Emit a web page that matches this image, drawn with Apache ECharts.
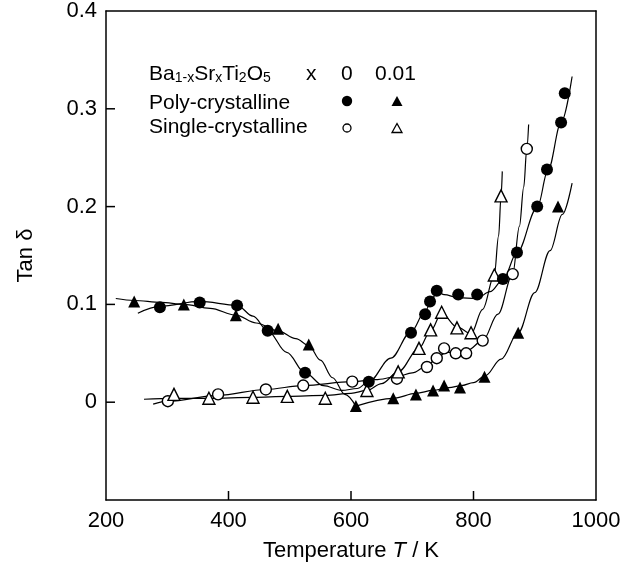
<!DOCTYPE html>
<html>
<head>
<meta charset="utf-8">
<script src="https://cdn.jsdelivr.net/npm/echarts@6/dist/echarts.min.js"></script>
<style>
  html, body { margin: 0; padding: 0; background: #fff; }
  #chart { width: 632px; height: 572px; }
</style>
</head>
<body>
<div id="chart"></div>
<script>
// measured points [T (K), tan delta]
const polyX0 = [[288,0.097],[353,0.102],[414,0.099],[464,0.073],[525,0.030],[629,0.021],[698,0.071],[721,0.090],[729,0.103],[740,0.114],[775,0.110],[806,0.110],[848,0.126],[871,0.153],[904,0.200],[920,0.238],[943,0.286],[949,0.316]];
const polyX001 = [[246,0.103],[327,0.100],[412,0.089],[481,0.075],[531,0.059],[608,-0.004],[669,0.004],[706,0.008],[734,0.012],[752,0.017],[778,0.015],[818,0.026],[873,0.071],[938,0.200]];
const singleX0 = [[301,0.001],[383,0.008],[461,0.013],[522,0.017],[602,0.021],[675,0.024],[724,0.036],[740,0.045],[752,0.055],[771,0.050],[788,0.050],[815,0.063],[864,0.131],[887,0.259]];
const singleX001 = [[311,0.008],[368,0.004],[440,0.005],[496,0.006],[558,0.004],[626,0.012],[677,0.031],[711,0.055],[730,0.074],[748,0.092],[773,0.076],[796,0.071],[834,0.130],[845,0.211]];

// guide curves drawn through the data
const polyX0Fit = [[252,0.091],[288,0.098],[353,0.103],[414,0.099],[440,0.088],[464,0.073],[495,0.051],[525,0.030],[555,0.017],[585,0.012],[610,0.014],[629,0.021],[665,0.045],[698,0.072],[722,0.094],[733,0.107],[742,0.113],[752,0.110],[775,0.107],[805,0.106],[827,0.113],[848,0.125],[871,0.153],[904,0.199],[922,0.238],[943,0.286],[961,0.333]];
const polyX001FitLow = [[216,0.106],[246,0.104],[290,0.102],[327,0.100],[370,0.096],[412,0.089],[445,0.081],[481,0.073],[510,0.065],[531,0.058],[550,0.043],[570,0.025],[590,0.008],[608,-0.004]];
const polyX001FitHigh = [[608,-0.004],[669,0.004],[706,0.009],[734,0.012],[760,0.015],[780,0.017],[800,0.020],[819,0.027],[845,0.044],[873,0.071],[900,0.112],[925,0.155],[945,0.192],[961,0.224]];
const singleX0Fit = [[277,-0.002],[301,0.001],[383,0.007],[461,0.013],[522,0.017],[602,0.021],[640,0.023],[675,0.026],[700,0.030],[724,0.037],[740,0.045],[755,0.051],[772,0.051],[790,0.053],[815,0.063],[840,0.090],[864,0.131],[875,0.180],[882,0.220],[887,0.259],[890,0.284]];
const singleX001Fit = [[262,0.003],[311,0.004],[368,0.004],[440,0.005],[496,0.006],[558,0.007],[600,0.009],[626,0.012],[650,0.019],[677,0.031],[711,0.055],[730,0.073],[748,0.091],[773,0.077],[796,0.070],[815,0.095],[834,0.130],[841,0.170],[845,0.211],[847,0.236]];

const xTicks = [200, 400, 600, 800, 1000];
const yTicks = [-0.1, 0, 0.1, 0.2, 0.3, 0.4];
// inward tick marks shown on the frame
const xTickMarks = [400, 600, 800];
const yTickMarks = [0, 0.1, 0.2, 0.3];

const FONT = "'Liberation Sans', Arial, sans-serif";
const chart = echarts.init(document.getElementById('chart'));

const xMin = xTicks[0], xMax = xTicks[xTicks.length - 1];
const yMin = yTicks[0], yMax = yTicks[yTicks.length - 1];

function fitLine(data) {
  return {
    type: 'line', data: data, smooth: 0.35, smoothMonotone: 'x',
    showSymbol: false, silent: true, z: 2,
    lineStyle: { color: '#000', width: 1.2 }
  };
}

function marks(data, symbol, filled, size) {
  return {
    type: 'scatter', data: data, symbol: symbol, symbolSize: size, z: 5,
    itemStyle: filled
      ? { color: '#000', opacity: 1 }
      : { color: '#fff', borderColor: '#000', borderWidth: 1.4, opacity: 1 }
  };
}

// short inward ticks, placed on the frame through the axes' scales
function tickMarks(data, size, offset) {
  return {
    type: 'scatter', data: data, symbol: 'rect', symbolSize: size, symbolOffset: offset,
    clip: false, silent: true, z: 6,
    itemStyle: { color: '#000', opacity: 1 }
  };
}

const sub = { fontSize: 14, lineHeight: 14, verticalAlign: 'bottom', fontFamily: FONT, fill: '#000' };
const norm = { fontSize: 21, lineHeight: 22, fontFamily: FONT, fill: '#000' };

function legendText(x, y, txt, rich) {
  return { type: 'text', left: x, top: y, z: 10,
    style: { text: txt, fill: '#000', font: '21px ' + FONT, rich: rich } };
}

function tri(cx, cy, w, h, filled) {
  return { type: 'polygon', z: 10,
    shape: { points: [[cx, cy - h / 2], [cx + w / 2, cy + h / 2], [cx - w / 2, cy + h / 2]] },
    style: filled ? { fill: '#000' } : { fill: '#fff', stroke: '#000', lineWidth: 1.3 } };
}

function frameAxis(pos, min, max) {
  // plain line for the top / right edge of the box
  return {
    type: 'value', position: pos, min: min, max: max,
    axisLine: { show: true, onZero: false, lineStyle: { color: '#000', width: 1.5 } },
    axisTick: { show: false }, axisLabel: { show: false }, splitLine: { show: false }
  };
}

const option = {
  animation: false,
  backgroundColor: '#fff',
  grid: { left: 106, right: 36, top: 11, bottom: 72 },
  xAxis: [{
    type: 'value', position: 'bottom', min: xMin, max: xMax, interval: 200,
    name: '{n|Temperature }{i|T}{n| / K}', nameLocation: 'middle', nameGap: 40,
    nameTextStyle: { rich: { n: { fontSize: 22, fontFamily: FONT, color: '#000' }, i: { fontSize: 22, fontFamily: FONT, fontStyle: 'italic', color: '#000' } } },
    axisLine: { show: true, onZero: false, lineStyle: { color: '#000', width: 1.5 } },
    axisTick: { show: false },
    axisLabel: { fontSize: 22, fontFamily: FONT, color: '#000', margin: 10, formatter: function (v) { return String(v); } },
    splitLine: { show: false }
  }, frameAxis('top', xMin, xMax)],
  yAxis: [{
    type: 'value', position: 'left', min: yMin, max: yMax, interval: 0.1,
    name: 'Tan δ', nameLocation: 'middle', nameGap: 69,
    nameTextStyle: { fontSize: 22, fontFamily: FONT, color: '#000' },
    axisLine: { show: true, onZero: false, lineStyle: { color: '#000', width: 1.5 } },
    axisTick: { show: false },
    axisLabel: {
      fontSize: 22, fontFamily: FONT, color: '#000', margin: 9,
      formatter: function (v) {
        const r = Math.round(v * 10) / 10;
        if (r < 0) return '';
        return r === 0 ? '0' : r.toFixed(1);
      }
    },
    splitLine: { show: false }
  }, frameAxis('right', yMin, yMax)],
  series: [
    fitLine(polyX0Fit),
    fitLine(polyX001FitLow),
    fitLine(polyX001FitHigh),
    fitLine(singleX0Fit),
    fitLine(singleX001Fit),
    marks(singleX0, 'circle', false, 11),
    marks(singleX001, 'triangle', false, 12),
    marks(polyX0, 'circle', true, 12),
    marks(polyX001, 'triangle', true, 12),
    tickMarks(xTickMarks.map(function (v) { return [v, yMin]; }), [1.5, 9], [0, -4.5]),
    tickMarks(yTickMarks.map(function (v) { return [xMin, v]; }), [9, 1.5], [4.5, 0])
  ],
  graphic: [
    legendText(149, 64, '{n|Ba}{s|1-x}{n|Sr}{s|x}{n|Ti}{s|2}{n|O}{s|5}', { n: norm, s: sub }),
    legendText(306, 64, '{n|x}', { n: norm }),
    legendText(341, 64, '{n|0}', { n: norm }),
    legendText(375, 64, '{n|0.01}', { n: norm }),
    legendText(149, 93, '{n|Poly-crystalline}', { n: norm }),
    legendText(149, 117, '{n|Single-crystalline}', { n: norm }),
    { type: 'circle', z: 10, shape: { cx: 347, cy: 101, r: 5.2 }, style: { fill: '#000' } },
    tri(397, 101, 11, 10, true),
    { type: 'circle', z: 10, shape: { cx: 347, cy: 128, r: 4 }, style: { fill: '#fff', stroke: '#000', lineWidth: 1.3 } },
    tri(397, 128, 10, 9, false)
  ]
};

chart.setOption(option);
</script>
</body>
</html>
